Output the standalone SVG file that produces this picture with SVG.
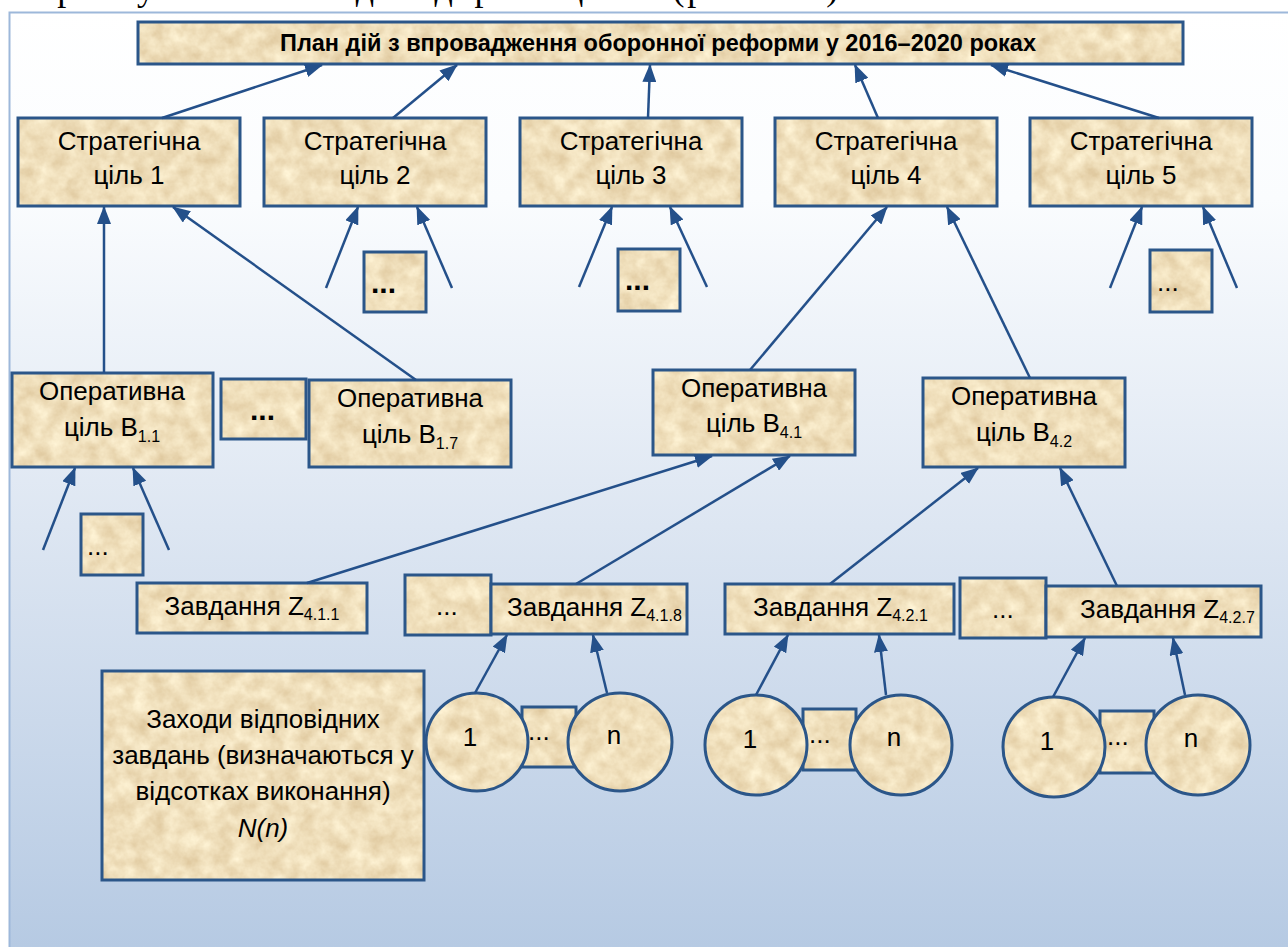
<svg xmlns="http://www.w3.org/2000/svg" width="1288" height="947" viewBox="0 0 1288 947">
  <defs>
    <linearGradient id="bg" x1="0" y1="12" x2="0" y2="947" gradientUnits="userSpaceOnUse">
      <stop offset="0" stop-color="#ffffff"/>
      <stop offset="0.2" stop-color="#fafcfe"/>
      <stop offset="0.55" stop-color="#dde6f2"/>
      <stop offset="1" stop-color="#b6cae3"/>
    </linearGradient>
    <!-- parchment texture for node fills -->
    <filter id="paperTex" x="0" y="0" width="1288" height="947" filterUnits="userSpaceOnUse" color-interpolation-filters="sRGB">
      <feTurbulence type="fractalNoise" baseFrequency="0.06" numOctaves="4" seed="7"/>
      <feColorMatrix type="matrix" values="0.16 0 0 0 0.86  0.22 0 0 0 0.765  0.28 0 0 0 0.595  0 0 0 0 1"/>
    </filter>
    <pattern id="paper" patternUnits="userSpaceOnUse" x="0" y="0" width="1288" height="947">
      <rect width="1288" height="947" filter="url(#paperTex)"/>
    </pattern>
    <marker id="arrow" viewBox="0 0 18 14" refX="17" refY="7" markerWidth="18" markerHeight="14" markerUnits="userSpaceOnUse" orient="auto">
      <path d="M0,0 L18,7 L0,14 z" fill="#24508a"/>
    </marker>
    <style>
      .box { fill: url(#paper); stroke: #2b5689; stroke-width: 3; }
      .t { font-family: "Liberation Sans", Arial, sans-serif; font-size: 26px; fill: #000; text-anchor: middle; }
      .ts { text-anchor: start; }
      .tb { font-family: "Liberation Sans", Arial, sans-serif; font-size: 23px; font-weight: bold; fill: #000; text-anchor: middle; }
      .sub { font-size: 16px; }
      .bdots { font-family: "Liberation Sans", Arial, sans-serif; font-size: 30px; font-weight: bold; fill: #000; }
      .conn line { stroke: #24508a; stroke-width: 2.5; marker-end: url(#arrow); }
    </style>
  </defs>

  <!-- page background and frame -->
  <rect x="0" y="0" width="1288" height="947" fill="#ffffff"/>
  <text x="18" y="0" textLength="832" lengthAdjust="spacing" font-family="Liberation Serif, Times New Roman, serif" font-size="36" fill="#000">користуємося методом дерева цілей (рис. 1.1).</text>
  <rect x="9.5" y="12.5" width="1290" height="950" fill="url(#bg)" stroke="#9db8da" stroke-width="2"/>

  <!-- top level -->
  <g id="plan">
    <rect class="box" x="138" y="22" width="1045" height="42"/>
    <text class="tb" x="658" y="51" textLength="756" lengthAdjust="spacingAndGlyphs">План дій з впровадження оборонної реформи у 2016–2020 роках</text>
  </g>

  <!-- strategic goals -->
  <g id="s1">
    <rect class="box" x="18" y="118" width="222" height="88"/>
    <text class="t" x="129" y="150">Стратегічна</text>
    <text class="t" x="129" y="184">ціль 1</text>
  </g>
  <g id="s2">
    <rect class="box" x="264" y="118" width="222" height="88"/>
    <text class="t" x="375" y="150">Стратегічна</text>
    <text class="t" x="375" y="184">ціль 2</text>
  </g>
  <g id="s3">
    <rect class="box" x="520" y="118" width="222" height="88"/>
    <text class="t" x="631" y="150">Стратегічна</text>
    <text class="t" x="631" y="184">ціль 3</text>
  </g>
  <g id="s4">
    <rect class="box" x="775" y="118" width="222" height="88"/>
    <text class="t" x="886" y="150">Стратегічна</text>
    <text class="t" x="886" y="184">ціль 4</text>
  </g>
  <g id="s5">
    <rect class="box" x="1030" y="118" width="222" height="88"/>
    <text class="t" x="1141" y="150">Стратегічна</text>
    <text class="t" x="1141" y="184">ціль 5</text>
  </g>

  <!-- placeholders under strategic goals -->
  <g id="s2-more">
    <rect class="box" x="364" y="252" width="62" height="60"/>
    <text class="bdots" x="371" y="293">...</text>
  </g>
  <g id="s3-more">
    <rect class="box" x="618" y="249" width="62" height="62"/>
    <text class="bdots" x="625" y="290">...</text>
  </g>
  <g id="s5-more">
    <rect class="box" x="1150" y="250" width="62" height="62"/>
    <text class="t ts" x="1157" y="291">...</text>
  </g>

  <!-- operational goals -->
  <g id="b11">
    <rect class="box" x="12" y="373" width="201" height="94"/>
    <text class="t" x="112" y="400">Оперативна</text>
    <text class="t" x="112" y="436">ціль B<tspan class="sub" dy="6">1.1</tspan></text>
  </g>
  <g id="b1-more">
    <rect class="box" x="221" y="379" width="85" height="60"/>
    <text class="bdots" x="250" y="420">...</text>
  </g>
  <g id="b17">
    <rect class="box" x="309" y="380" width="202" height="87"/>
    <text class="t" x="410" y="407">Оперативна</text>
    <text class="t" x="410" y="443">ціль B<tspan class="sub" dy="6">1.7</tspan></text>
  </g>
  <g id="b41">
    <rect class="box" x="653" y="370" width="202" height="85"/>
    <text class="t" x="754" y="397">Оперативна</text>
    <text class="t" x="754" y="432">ціль B<tspan class="sub" dy="6">4.1</tspan></text>
  </g>
  <g id="b42">
    <rect class="box" x="923" y="378" width="202" height="89"/>
    <text class="t" x="1024" y="405">Оперативна</text>
    <text class="t" x="1024" y="441">ціль B<tspan class="sub" dy="6">4.2</tspan></text>
  </g>
  <g id="b11-more">
    <rect class="box" x="81" y="514" width="62" height="61"/>
    <text class="t ts" x="87" y="555">...</text>
  </g>

  <!-- tasks -->
  <g id="z411">
    <rect class="box" x="137" y="583" width="230" height="50"/>
    <text class="t" x="252" y="615">Завдання Z<tspan class="sub" dy="5">4.1.1</tspan></text>
  </g>
  <g id="z41-more">
    <rect class="box" x="405" y="575" width="86" height="60"/>
    <text class="t ts" x="436" y="615">...</text>
  </g>
  <g id="z418">
    <rect class="box" x="491" y="584" width="196" height="50"/>
    <text class="t ts" x="507" y="616">Завдання Z<tspan class="sub" dy="5">4.1.8</tspan></text>
  </g>
  <g id="z421">
    <rect class="box" x="725" y="584" width="229" height="50"/>
    <text class="t ts" x="753" y="616">Завдання Z<tspan class="sub" dy="5">4.2.1</tspan></text>
  </g>
  <g id="z42-more">
    <rect class="box" x="960" y="578" width="86" height="60"/>
    <text class="t ts" x="992" y="618">...</text>
  </g>
  <g id="z427">
    <rect class="box" x="1046" y="586" width="215" height="51"/>
    <text class="t ts" x="1080" y="618">Завдання Z<tspan class="sub" dy="5">4.2.7</tspan></text>
  </g>

  <!-- measures legend -->
  <g id="measures">
    <rect class="box" x="102" y="671" width="322" height="209"/>
    <text class="t" x="263" y="728">Заходи відповідних</text>
    <text class="t" x="263" y="764">завдань (визначаються у</text>
    <text class="t" x="263" y="800">відсотках виконання)</text>
    <text class="t" x="263" y="837" font-style="italic">N(n)</text>
  </g>

  <!-- measures of each task -->
  <g id="m418">
    <rect class="box" x="522" y="707" width="54" height="60"/>
    <text class="t ts" x="528" y="740">...</text>
    <ellipse class="box" cx="477" cy="742" rx="51" ry="49"/>
    <text class="t" x="470" y="746">1</text>
    <ellipse class="box" cx="620" cy="742" rx="52" ry="49"/>
    <text class="t" x="614" y="744">n</text>
  </g>
  <g id="m421">
    <rect class="box" x="803" y="709" width="53" height="61"/>
    <text class="t ts" x="809" y="743">...</text>
    <ellipse class="box" cx="756" cy="745" rx="51" ry="50"/>
    <text class="t" x="750" y="748">1</text>
    <ellipse class="box" cx="901" cy="745" rx="51" ry="50"/>
    <text class="t" x="894" y="746">n</text>
  </g>
  <g id="m427">
    <rect class="box" x="1100" y="711" width="54" height="62"/>
    <text class="t ts" x="1107" y="745">...</text>
    <ellipse class="box" cx="1054" cy="747" rx="51" ry="50"/>
    <text class="t" x="1047" y="750">1</text>
    <ellipse class="box" cx="1198" cy="745" rx="52" ry="50"/>
    <text class="t" x="1191" y="747">n</text>
  </g>

  <!-- connectors -->
  <g class="conn">
    <line x1="162" y1="118" x2="322" y2="65"/>
    <line x1="393" y1="118" x2="457" y2="65"/>
    <line x1="648" y1="118" x2="650" y2="65"/>
    <line x1="878" y1="118" x2="855" y2="65"/>
    <line x1="1159" y1="118" x2="991" y2="65"/>

    <line x1="104" y1="373" x2="104" y2="207"/>
    <line x1="416" y1="380" x2="173" y2="207"/>
    <line x1="326" y1="288" x2="358" y2="207"/>
    <line x1="452" y1="288" x2="417" y2="207"/>
    <line x1="579" y1="287" x2="612" y2="207"/>
    <line x1="707" y1="287" x2="670" y2="207"/>
    <line x1="750" y1="370" x2="887" y2="207"/>
    <line x1="1030" y1="378" x2="947" y2="207"/>
    <line x1="1110" y1="288" x2="1142" y2="207"/>
    <line x1="1237" y1="288" x2="1203" y2="207"/>

    <line x1="43" y1="550" x2="75" y2="468"/>
    <line x1="169" y1="550" x2="133" y2="468"/>
    <line x1="307" y1="583" x2="712" y2="456"/>
    <line x1="576" y1="584" x2="790" y2="456"/>
    <line x1="830" y1="584" x2="978" y2="468"/>
    <line x1="1117" y1="586" x2="1060" y2="468"/>

    <line x1="475" y1="693" x2="507" y2="635"/>
    <line x1="607" y1="693" x2="593" y2="635"/>
    <line x1="756" y1="695" x2="788" y2="635"/>
    <line x1="886" y1="695" x2="879" y2="635"/>
    <line x1="1053" y1="697" x2="1085" y2="638"/>
    <line x1="1185" y1="695" x2="1173" y2="638"/>
  </g>
</svg>
